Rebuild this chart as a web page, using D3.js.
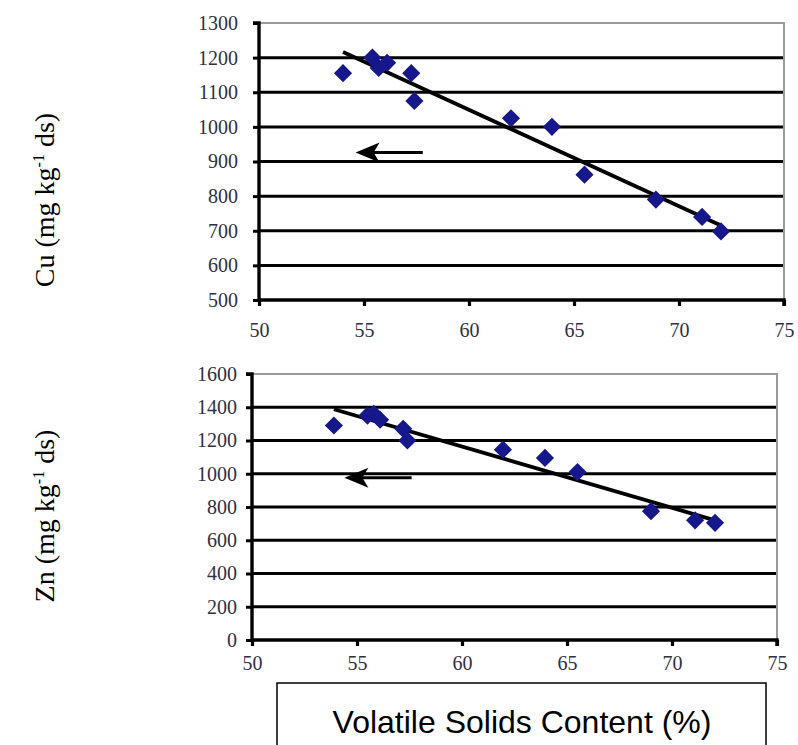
<!DOCTYPE html>
<html>
<head>
<meta charset="utf-8">
<script src="https://cdn.jsdelivr.net/npm/d3@7"></script>
<style>
  html, body { margin: 0; padding: 0; background: #fff; }
  svg { display: block; }
</style>
</head>
<body>
<svg id="chart" width="798" height="745"></svg>
<script>
// ---------- data ----------
const xTicks = [50, 55, 60, 65, 70, 75];
const cuTicks = [500, 600, 700, 800, 900, 1000, 1100, 1200, 1300];
const znTicks = [0, 200, 400, 600, 800, 1000, 1200, 1400, 1600];

const cuVS = [54.0, 55.4, 55.7, 56.1, 57.25, 57.4, 62.0, 63.95, 65.5, 68.9, 71.1, 72.0];
const cuVal = [1155, 1200, 1170, 1185, 1155, 1075, 1025, 1000, 862, 790, 740, 698];

const znVS = [53.9, 55.5, 55.8, 56.1, 57.2, 57.4, 61.95, 63.95, 65.5, 69.0, 71.1, 72.05];
const znVal = [1290, 1350, 1360, 1325, 1270, 1200, 1145, 1095, 1010, 775, 720, 705];

// arrow annotations: [x from, x to, y value]
const cuArrow = [57.8, 54.6, 926];
const znArrow = [57.6, 54.4, 976];

const xTitle = "Volatile Solids Content (%)";

// ---------- helpers ----------
const svg = d3.select("#chart");
const serif = "'Liberation Serif', 'Times New Roman', serif";
const tickColor = "#2f3045";

function regression(xs, ys) {
  const n = xs.length;
  const mx = d3.mean(xs), my = d3.mean(ys);
  let sxy = 0, sxx = 0;
  for (let i = 0; i < n; i++) { sxy += (xs[i] - mx) * (ys[i] - my); sxx += (xs[i] - mx) ** 2; }
  const b = sxy / sxx;
  const a = my - b * mx;
  return x => a + b * x;
}

function panel(cfg) {
  const g = svg.append("g");
  const x = d3.scaleLinear().domain([50, 75]).range([cfg.left, cfg.right]);
  const y = d3.scaleLinear().domain(cfg.yDomain).range([cfg.bottom, cfg.top]);

  // gridlines (all but top)
  g.append("g").selectAll("line")
    .data(cfg.yTicks.filter(t => t !== cfg.yDomain[0] && t !== cfg.yDomain[1]))
    .join("line")
    .attr("x1", cfg.left).attr("x2", cfg.right)
    .attr("y1", d => y(d)).attr("y2", d => y(d))
    .attr("stroke", "#000").attr("stroke-width", 3);

  // top & right border (grey)
  g.append("path")
    .attr("d", `M${cfg.left},${y(cfg.yDomain[1])}H${cfg.right}V${y(cfg.yDomain[0])}`)
    .attr("fill", "none").attr("stroke", "#9a9a9a").attr("stroke-width", 2);

  // y axis
  const ya = g.append("g").attr("transform", `translate(${cfg.left},0)`)
    .call(d3.axisLeft(y).tickValues(cfg.yTicks).tickSize(6).tickPadding(cfg.yPad).tickFormat(d3.format("d")));
  ya.select(".domain").attr("stroke-width", 3.4).attr("d", `M-6,${y(cfg.yDomain[1])}H0V${y(cfg.yDomain[0])}`);
  ya.selectAll(".tick line").attr("stroke-width", 3);
  ya.selectAll("text").attr("font-family", serif).attr("font-size", 20).attr("fill", tickColor);

  // x axis
  const xa = g.append("g").attr("transform", `translate(0,${cfg.bottom})`)
    .call(d3.axisBottom(x).tickValues(xTicks).tickSize(6).tickPadding(cfg.xPad));
  xa.select(".domain").attr("stroke-width", 3.4).attr("d", `M${cfg.left},0H${cfg.right}V6`);
  xa.selectAll(".tick line").attr("stroke-width", 3.2);
  xa.selectAll("text").attr("font-family", serif).attr("font-size", 20).attr("fill", tickColor);

  // trend line (least squares)
  const f = regression(cfg.xs, cfg.ys);
  const x0 = d3.min(cfg.xs), x1 = d3.max(cfg.xs);
  g.append("line")
    .attr("x1", x(x0)).attr("y1", y(f(x0)))
    .attr("x2", x(x1)).attr("y2", y(f(x1)))
    .attr("stroke", "#000").attr("stroke-width", 3.8);

  // markers (diamonds)
  const sym = d3.symbol().type(d3.symbolSquare).size(165);
  g.append("g").selectAll("path")
    .data(cfg.xs.map((v, i) => [v, cfg.ys[i]]))
    .join("path")
    .attr("d", sym)
    .attr("transform", d => `translate(${x(d[0])},${y(d[1])}) rotate(45)`)
    .attr("fill", "#17178c");

  // arrow
  const [ax0, ax1, av] = cfg.arrow;
  const ay = y(av), tip = x(ax1), tail = x(ax0);
  g.append("line")
    .attr("x1", tail).attr("y1", ay).attr("x2", tip + 14).attr("y2", ay)
    .attr("stroke", "#000").attr("stroke-width", 3.2);
  g.append("path")
    .attr("d", `M${tip},${ay}L${tip + 24},${ay - 10}L${tip + 18},${ay}L${tip + 24},${ay + 10}Z`)
    .attr("fill", "#000");

  // y title
  const t = g.append("text")
    .attr("transform", `translate(${cfg.titleX},${cfg.titleY}) rotate(-90)`)
    .attr("text-anchor", "middle")
    .attr("font-family", serif).attr("font-size", 28).attr("fill", "#000");
  t.append("tspan").text(cfg.metal + " (mg kg");
  t.append("tspan").attr("dy", -10).attr("font-size", 16).text("-1");
  t.append("tspan").attr("dy", 10).text(" ds)");
}

panel({
  left: 259, right: 784, top: 23, bottom: 300,
  yDomain: [500, 1300], yTicks: cuTicks, yPad: 15, xPad: 17,
  xs: cuVS, ys: cuVal, arrow: cuArrow,
  metal: "Cu", titleX: 54, titleY: 200
});

panel({
  left: 252, right: 777, top: 374, bottom: 640,
  yDomain: [0, 1600], yTicks: znTicks, yPad: 9, xPad: 10,
  xs: znVS, ys: znVal, arrow: znArrow,
  metal: "Zn", titleX: 54, titleY: 516
});

// x-axis title box
svg.append("rect")
  .attr("x", 277).attr("y", 683).attr("width", 489).attr("height", 90)
  .attr("fill", "#fff").attr("stroke", "#000").attr("stroke-width", 1.5);
svg.append("text")
  .attr("x", 522).attr("y", 733)
  .attr("text-anchor", "middle")
  .attr("font-family", "'Liberation Sans', Arial, sans-serif")
  .attr("font-size", 32).attr("fill", "#000")
  .text(xTitle);
</script>
</body>
</html>
